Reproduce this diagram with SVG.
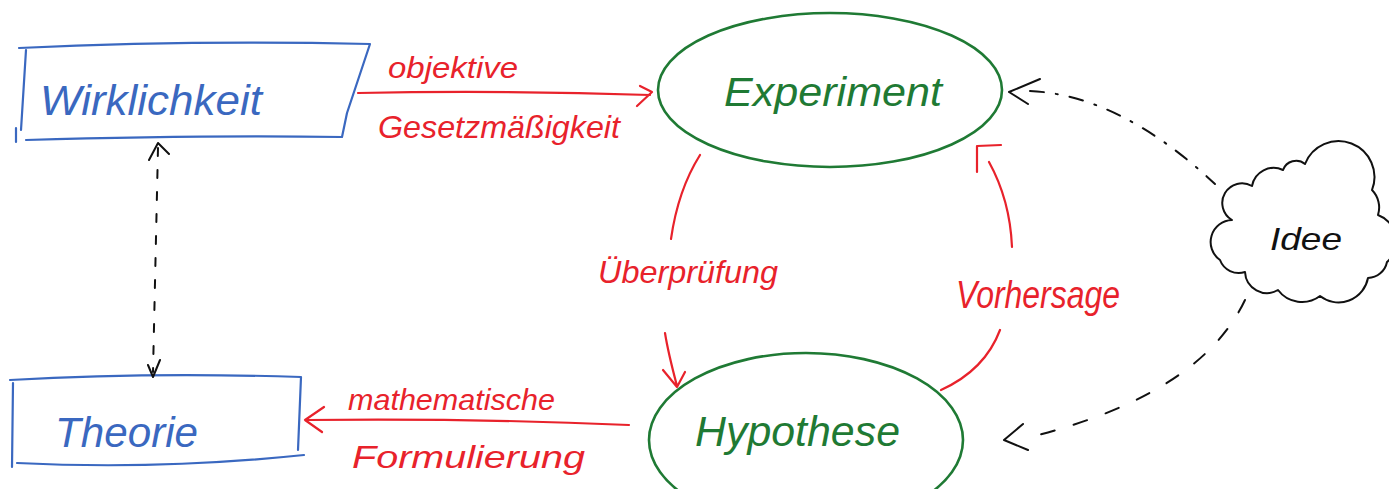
<svg xmlns="http://www.w3.org/2000/svg" width="1389" height="489" viewBox="0 0 1389 489">
<style>
.blue{stroke:#3a68c0;fill:none;stroke-width:2.2;stroke-linecap:round;stroke-linejoin:round}
.green{stroke:#1f7a34;fill:none;stroke-width:2.6;stroke-linecap:round}
.red{stroke:#e8222b;fill:none;stroke-width:2.2;stroke-linecap:round;stroke-linejoin:round}
.blk{stroke:#111;fill:none;stroke-width:2;stroke-linecap:round;stroke-linejoin:round}
text{font-family:"Liberation Sans","DejaVu Sans",sans-serif;font-style:italic}
.tb{fill:#3a68c0}.tg{fill:#1f7a34}.tr{fill:#e8222b}.tk{fill:#111}
</style>
<rect width="1389" height="489" fill="#fff"/>
<g id="wirklichkeit">
<path class="blue" d="M19,48 Q190,40 370,44 L347,113 L342,137 Q200,135 26,140 M26,50 L21,130 M16,128 L16,142"/>
<text class="tb" x="40" y="115" font-size="42" textLength="222" lengthAdjust="spacingAndGlyphs">Wirklichkeit</text>
</g>
<g id="theorie">
<path class="blue" d="M10,380 Q150,372 301,377 L298,450 M17,463 Q160,470 304,455 M13,383 L12,467"/>
<text class="tb" x="55" y="447" font-size="42" textLength="143" lengthAdjust="spacingAndGlyphs">Theorie</text>
</g>
<g id="experiment">
<ellipse class="green" cx="830" cy="90" rx="172" ry="77"/>
<text class="tg" x="724" y="106" font-size="40" textLength="218" lengthAdjust="spacingAndGlyphs">Experiment</text>
</g>
<g id="hypothese">
<ellipse class="green" cx="806" cy="440" rx="157" ry="87"/>
<text class="tg" x="695" y="446" font-size="42" textLength="205" lengthAdjust="spacingAndGlyphs">Hypothese</text>
</g>
<g id="idee">
<path class="blk" d="M1232,220 A18,18 0 0 1 1252,186 A22,22 0 0 1 1283,170 A14,14 0 0 1 1305,164 A32,32 0 0 1 1372,190 A25,25 0 0 1 1378,215 A28,28 0 0 1 1387,262 A20,20 0 0 1 1368,278 A30,30 0 0 1 1320,296 A30,30 0 0 1 1278,290 A22,22 0 0 1 1245,272 A20,20 0 0 1 1220,260 A22,22 0 0 1 1232,220 Z"/>
<text class="tk" x="1270" y="250" font-size="32" textLength="72" lengthAdjust="spacingAndGlyphs">Idee</text>
</g>
<g id="connectors">
<path class="red" d="M358,93 Q500,90 650,95 M640,86 L652,92 L637,106"/>
<text class="tr" x="388" y="78" font-size="30" textLength="130" lengthAdjust="spacingAndGlyphs">objektive</text>
<text class="tr" x="378" y="138" font-size="32" textLength="242" lengthAdjust="spacingAndGlyphs">Gesetzmäßigkeit</text>
<path class="red" d="M629,425 Q470,418 305,420 M324,407 L305,420 L322,432"/>
<text class="tr" x="348" y="410" font-size="30" textLength="207" lengthAdjust="spacingAndGlyphs">mathematische</text>
<text class="tr" x="352" y="468" font-size="32" textLength="233" lengthAdjust="spacingAndGlyphs">Formulierung</text>
<path class="red" d="M700,155 Q678,190 671,239 M665,333 Q668,352 677,386 M663,370 L677,387 L685,372"/>
<text class="tr" x="598" y="283" font-size="32" textLength="180" lengthAdjust="spacingAndGlyphs">Überprüfung</text>
<path class="red" d="M941,390 Q985,370 1000,330 M1012,247 Q1010,200 989,162 M977,172 L977,146 L1001,145"/>
<text class="tr" x="956" y="308" font-size="38" textLength="164" lengthAdjust="spacingAndGlyphs">Vorhersage</text>
<path class="blk" d="M158,148 L153,372" stroke-dasharray="8 14"/>
<path class="blk" d="M149,160 L158,143 L169,154 M148,365 L153,377 L160,360"/>
<path class="blk" d="M1030,91 Q1120,95 1215,184" stroke-dasharray="14 12 2 12"/>
<path class="blk" d="M1040,79 L1009,92 L1028,104"/>
<path class="blk" d="M1245,300 Q1200,395 1030,437" stroke-dasharray="14 20"/>
<path class="blk" d="M1023,424 L1004,440 L1028,450"/>
</g>
</svg>
